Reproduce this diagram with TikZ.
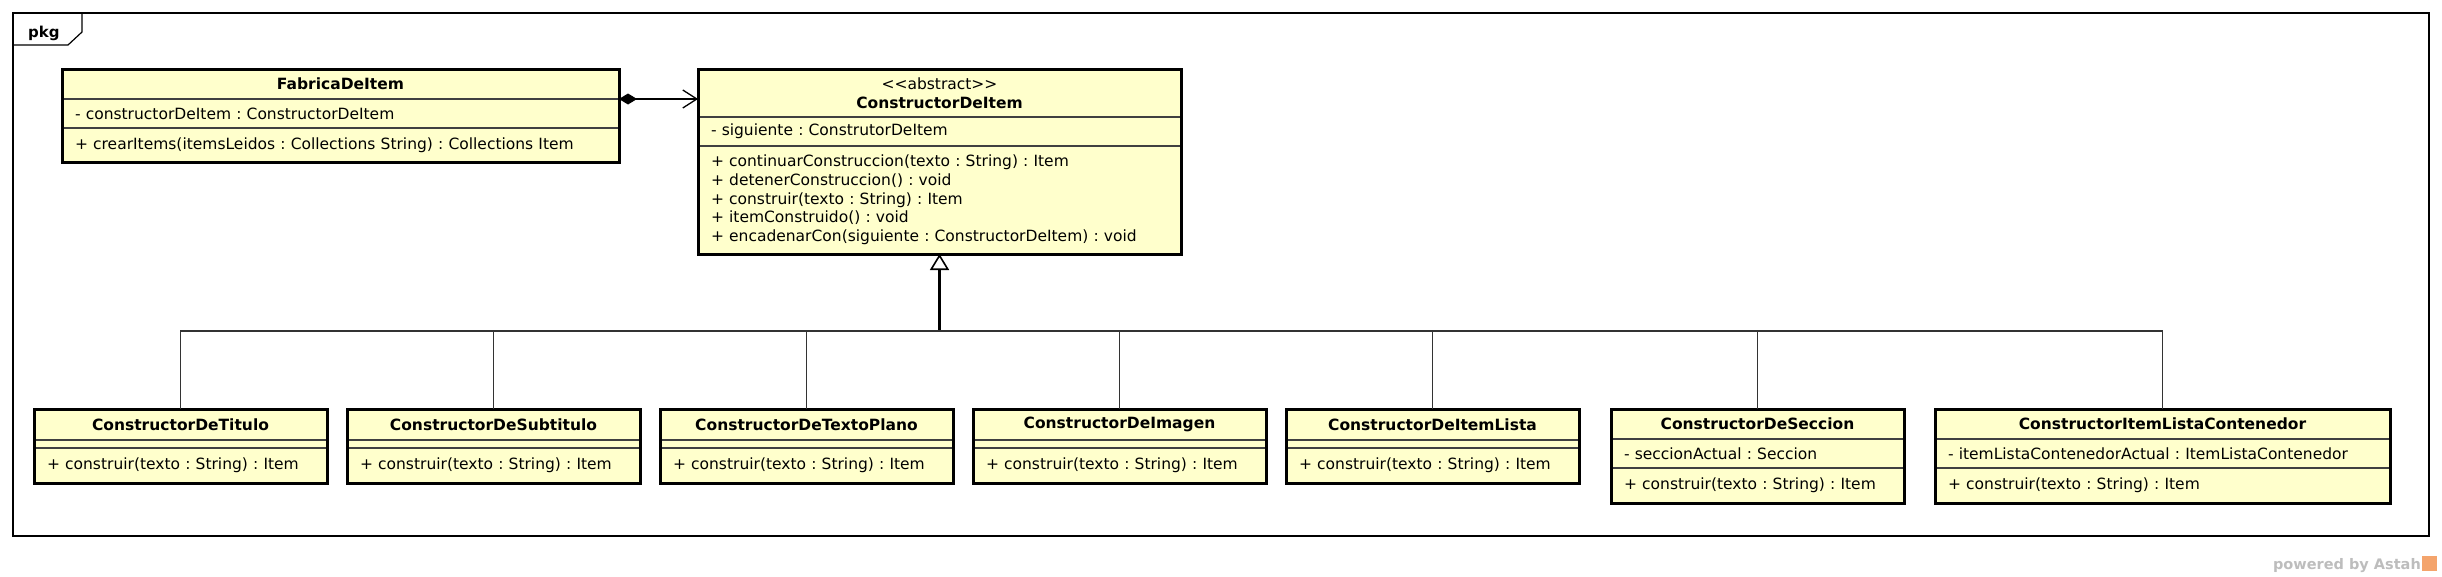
\documentclass[tikz,border=0pt]{standalone}
\usepackage{fontspec}
\setmainfont{DejaVu Sans}
\usepackage{xcolor}
\usepackage{tikz}
\usetikzlibrary{arrows.meta,positioning,calc}
\definecolor{umlfill}{HTML}{FFFFCC}
\definecolor{astahgray}{HTML}{BDBDBD}
\definecolor{astahorange}{HTML}{F4A46C}
\frenchspacing

\begin{document}
\begin{tikzpicture}[
  x=1pt, y=-1pt,
  clsbody/.style={draw=black!75, line width=1.1pt, fill=umlfill, outer sep=0pt,
    inner xsep=13pt, inner ysep=0pt, align=left,
    font=\fontsize{15.5}{18.7}\selectfont},
  clsname/.style={clsbody, align=center, font=\fontsize{15.5}{18.7}\selectfont\bfseries},
  outline/.style={draw=black, line width=3pt},
  tree/.style={draw=black!80, line width=1.3pt},
  gen/.style={draw=black, line width=2.2pt,
    -{Triangle[open, length=16pt, width=19pt, line width=1.6pt, fill=white]}},
  comp/.style={draw=black, line width=1.3pt,
    {Diamond[length=18pt, width=11pt]}-{Straight Barb[length=14pt, width=18pt]}},
]
\path[use as bounding box, fill=white] (0,0) rectangle (2442,576);
% package frame
\draw[line width=1.6pt] (13,13) rectangle (2429,536);
\draw[line width=1.2pt] (13,45) -- (68,45) -- (82,32) -- (82,13);
\node[anchor=base west, inner sep=0pt, font=\fontsize{15}{18}\selectfont\bfseries] (pkg) at (28,37) {pkg};
% factory
\node[clsname, text width=531pt, minimum height=30pt, anchor=north west] (fabN) at (62,69) {FabricaDeItem};
\node[clsbody, text width=531pt, minimum height=29pt, below=0pt of fabN] (fabA) {- constructorDeItem : ConstructorDeItem};
\node[clsbody, text width=531pt, minimum height=34pt, below=0pt of fabA] (fabM) {+ crearItems(itemsLeidos : Collections String) : Collections Item};
\draw[outline] (fabN.north west) rectangle (fabM.south east);
% abstract builder
\node[clsname, text width=457pt, minimum height=48pt, anchor=north west] (cdiN) at (698,69)
  {{\mdseries<\kern0pt<abstract>\kern0pt>}\\ConstructorDeItem};
\node[clsbody, text width=457pt, minimum height=29pt, below=0pt of cdiN] (cdiA) {- siguiente : ConstrutorDeItem};
\node[clsbody, text width=457pt, minimum height=108pt, below=0pt of cdiA] (cdiM)
  {+ continuarConstruccion(texto : String) : Item\\
   + detenerConstruccion() : void\\
   + construir(texto : String) : Item\\
   + itemConstruido() : void\\
   + encadenarCon(siguiente : ConstructorDeItem) : void};
\draw[outline] (cdiN.north west) rectangle (cdiM.south east);
% concrete builders
\node[clsname, text width=267pt, minimum height=31pt, anchor=north west] (titN) at (34,409) {ConstructorDeTitulo};
\node[clsbody, text width=267pt, minimum height=8pt, below=0pt of titN] (titA) {};
\node[clsbody, text width=267pt, minimum height=35pt, below=0pt of titA] (titM) {+ construir(texto : String) : Item};
\draw[outline] (titN.north west) rectangle (titM.south east);
\node[clsname, text width=267pt, minimum height=31pt, anchor=north west] (subN) at (347,409) {ConstructorDeSubtitulo};
\node[clsbody, text width=267pt, minimum height=8pt, below=0pt of subN] (subA) {};
\node[clsbody, text width=267pt, minimum height=35pt, below=0pt of subA] (subM) {+ construir(texto : String) : Item};
\draw[outline] (subN.north west) rectangle (subM.south east);
\node[clsname, text width=267pt, minimum height=31pt, anchor=north west] (texN) at (660,409) {ConstructorDeTextoPlano};
\node[clsbody, text width=267pt, minimum height=8pt, below=0pt of texN] (texA) {};
\node[clsbody, text width=267pt, minimum height=35pt, below=0pt of texA] (texM) {+ construir(texto : String) : Item};
\draw[outline] (texN.north west) rectangle (texM.south east);
\node[clsname, text width=267pt, minimum height=31pt, anchor=north west] (imaN) at (973,409) {ConstructorDeImagen};
\node[clsbody, text width=267pt, minimum height=8pt, below=0pt of imaN] (imaA) {};
\node[clsbody, text width=267pt, minimum height=35pt, below=0pt of imaA] (imaM) {+ construir(texto : String) : Item};
\draw[outline] (imaN.north west) rectangle (imaM.south east);
\node[clsname, text width=267pt, minimum height=31pt, anchor=north west] (iliN) at (1286,409) {ConstructorDeItemLista};
\node[clsbody, text width=267pt, minimum height=8pt, below=0pt of iliN] (iliA) {};
\node[clsbody, text width=267pt, minimum height=35pt, below=0pt of iliA] (iliM) {+ construir(texto : String) : Item};
\draw[outline] (iliN.north west) rectangle (iliM.south east);
\node[clsname, text width=267pt, minimum height=30pt, anchor=north west] (secN) at (1611,409) {ConstructorDeSeccion};
\node[clsbody, text width=267pt, minimum height=29pt, below=0pt of secN] (secA) {- seccionActual : Seccion};
\node[clsbody, text width=267pt, minimum height=35pt, below=0pt of secA] (secM) {+ construir(texto : String) : Item};
\draw[outline] (secN.north west) rectangle (secM.south east);
\node[clsname, text width=429pt, minimum height=30pt, anchor=north west] (conN) at (1935,409) {ConstructorItemListaContenedor};
\node[clsbody, text width=429pt, minimum height=29pt, below=0pt of conN] (conA) {- itemListaContenedorActual : ItemListaContenedor};
\node[clsbody, text width=429pt, minimum height=35pt, below=0pt of conA] (conM) {+ construir(texto : String) : Item};
\draw[outline] (conN.north west) rectangle (conM.south east);
% edges
\draw[comp] (fabN.south east) -- (fabN.south east -| cdiN.west);
\coordinate (junc) at ($(cdiM.south)+(0,77)$);
\draw[gen] (junc) -- (cdiM.south);
\draw[tree] (titN.north) |- (junc);
\draw[tree] (subN.north) |- (junc);
\draw[tree] (texN.north) |- (junc);
\draw[tree] (imaN.north) |- (junc);
\draw[tree] (iliN.north) |- (junc);
\draw[tree] (secN.north) |- (junc);
\draw[tree] (conN.north) |- (junc);
% footer
\node[anchor=base east, inner sep=0pt, text=astahgray, font=\fontsize{14.5}{17}\selectfont\bfseries] (powered) at (2421,569) {powered by Astah};
\node[anchor=south west, fill=astahorange, minimum size=15pt, inner sep=0pt] (logo) at (2422,571) {};
\end{tikzpicture}
\end{document}
